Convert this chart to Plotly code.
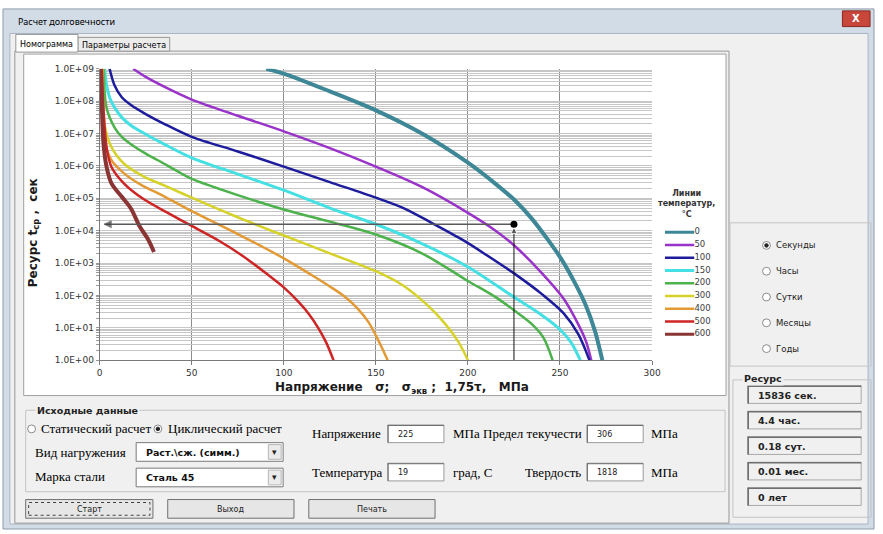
import math
import plotly.graph_objects as go

W, H = 883, 534


def px(x):
    return x / W


def py(y):
    return 1 - y / H


# ---------------- data ----------------
temperatures = ["0", "50", "100", "150", "200", "300", "400", "500", "600"]
line_colors = ["#3d8796", "#9a33c9", "#1c1c9c", "#45e0e3", "#4cb24c",
               "#d6d22a", "#e39a35", "#cf2424", "#8a3434"]
line_widths = [4, 2.5, 2.5, 3, 2.5, 2.5, 2.5, 2.5, 4]

stress_t0 = [90.5, 100, 125, 150, 175, 200, 215, 226, 235, 243.7, 251, 258, 264, 269, 273]
resource_t0 = [1.0e9, 7.1e8, 2.0e8, 5.2e7, 1.0e7, 1.26e6, 2.8e5, 8.1e4, 2.24e4, 5.0e3, 1.26e3, 2.5e2, 50, 7.9, 1.0]

stress_t50 = [18.2, 25, 35, 50, 75, 100, 125, 150, 175, 200, 215, 225, 240, 252, 260, 264, 267]
resource_t50 = [1.0e9, 5.6e8, 2.8e8, 1.12e8, 3.55e7, 1.17e7, 3.55e6, 9.5e5, 2.24e5, 3.55e4, 1.0e4, 3.55e3, 5.0e2, 79, 12.6, 4.0, 1.0]

stress_t100 = [5.4, 8, 12, 17, 25, 35, 50, 75, 100, 125, 150, 165, 180, 197.6, 210, 226, 240, 252, 260, 266]
resource_t100 = [1.0e9, 3.16e8, 1.32e8, 7.6e7, 4.0e7, 2.0e7, 7.9e6, 2.8e6, 9.5e5, 3.16e5, 1.05e5, 5.0e4, 1.78e4, 5.0e3, 1.78e3, 4.4e2, 1.12e2, 28, 6.3, 1.0]

stress_t150 = [2.7, 3.75, 5.5, 8.2, 12, 17, 25, 35, 50, 75, 100, 125, 150, 175, 200, 225, 240, 250, 256, 261]
resource_t150 = [1.0e9, 3.1e8, 1.26e8, 6.2e7, 3.16e7, 1.78e7, 9.5e6, 4.7e6, 1.78e6, 5.6e5, 1.78e5, 5.0e4, 1.58e4, 4.0e3, 7.6e2, 89, 25, 8.9, 3.55, 1.0]

stress_t200 = [2.2, 3.75, 8.2, 12, 17, 25, 31.6, 44, 50, 75, 100, 125, 150, 175, 200, 215, 225, 235, 241, 246]
resource_t200 = [1.0e9, 6.2e7, 1.5e7, 7.9e6, 4.7e6, 2.4e6, 1.5e6, 6.0e5, 4.0e5, 1.26e5, 4.5e4, 1.9e4, 7.6e3, 2.0e3, 2.8e2, 89, 35, 12.6, 5.0, 1.0]

stress_t300 = [1.8, 2.7, 6.4, 13.4, 24, 35, 50, 75, 100, 125, 150, 165, 178, 188, 195, 200]
resource_t300 = [1.0e9, 1.86e7, 3.8e6, 1.15e6, 4.7e5, 2.5e5, 1.05e5, 2.6e4, 7.1e3, 2.0e3, 5.6e2, 2.0e2, 50, 12.6, 3.55, 1.0]

stress_t400 = [1.4, 2.7, 6.4, 13.4, 22.5, 35, 50, 75, 100, 115, 125, 133, 140, 146, 151, 154, 156.4]
resource_t400 = [1.0e9, 6.2e6, 1.5e6, 5.8e5, 2.6e5, 1.15e5, 4.0e4, 7.9e3, 1.4e3, 4.3e2, 1.9e2, 93, 40, 15, 4.5, 2.0, 1.0]

stress_t500 = [1.1, 3.75, 6.4, 13.4, 24, 37, 50, 65, 77.7, 90, 100, 108, 114, 119, 123, 127]
resource_t500 = [1.0e9, 3.8e6, 9.3e5, 2.8e5, 9.3e4, 3.55e4, 1.4e4, 4.8e3, 1.66e3, 5.0e2, 1.78e2, 63, 25, 9.3, 3.55, 1.0]

stress_t600 = [0.8, 1.97, 3.75, 6.4, 11.8, 17.1, 21.6, 26.1, 29.5]
resource_t600 = [1.0e9, 6.0e6, 9.3e5, 2.9e5, 1.15e5, 4.7e4, 1.4e4, 5.6e3, 2.2e3]

x_tick_values = [0, 50, 100, 150, 200, 250, 300]
y_decades = [1e0, 1e1, 1e2, 1e3, 1e4, 1e5, 1e6, 1e7, 1e8, 1e9]
y_tick_labels = ["1.0E+00", "1.0E+01", "1.0E+02", "1.0E+03", "1.0E+04",
                 "1.0E+05", "1.0E+06", "1.0E+07", "1.0E+08", "1.0E+09"]

point_stress = 225
point_resource = 15836
arrow_tip_stress = 2.5
axis_min_resource = 1.0

time_units = ["Секунды", "Часы", "Сутки", "Месяцы", "Годы"]
resource_results = ["15836 сек.", "4.4 час.", "0.18 сут.", "0.01 мес.", "0 лет"]

curves = [
    (stress_t0, resource_t0), (stress_t50, resource_t50), (stress_t100, resource_t100),
    (stress_t150, resource_t150), (stress_t200, resource_t200), (stress_t300, resource_t300),
    (stress_t400, resource_t400), (stress_t500, resource_t500), (stress_t600, resource_t600),
]

# ---------------- figure ----------------
fig = go.Figure()

for (xs, ys), col, lw in zip(curves, line_colors, line_widths):
    fig.add_trace(go.Scatter(
        x=xs, y=ys, mode="lines", xaxis="x", yaxis="y",
        line=dict(color=col, width=lw, shape="spline", smoothing=0.9),
        showlegend=False, hoverinfo="skip"))

# guide lines from the operating point
fig.add_trace(go.Scatter(
    x=[point_stress, arrow_tip_stress], y=[point_resource, point_resource],
    mode="lines+markers", xaxis="x", yaxis="y",
    line=dict(color="#5a5a5a", width=1.5),
    marker=dict(symbol=["circle", "arrow-left"], size=[0, 7], color="#3a3a3a"),
    showlegend=False, hoverinfo="skip"))
fig.add_trace(go.Scatter(
    x=[point_stress, point_stress], y=[axis_min_resource, point_resource * 0.8],
    mode="lines+markers", xaxis="x", yaxis="y",
    line=dict(color="#111111", width=1),
    marker=dict(symbol=["circle", "arrow-up"], size=[0, 6], color="#111111"),
    showlegend=False, hoverinfo="skip", cliponaxis=False))
fig.add_trace(go.Scatter(
    x=[point_stress], y=[point_resource], mode="markers", xaxis="x", yaxis="y",
    marker=dict(color="black", size=7, symbol="circle"),
    showlegend=False, hoverinfo="skip"))

# hand-made legend (mini axes)
for i, (t, col, lw) in enumerate(zip(temperatures, line_colors, line_widths)):
    fig.add_trace(go.Scatter(
        x=[0, 1], y=[i, i], mode="lines", xaxis="x2", yaxis="y2",
        line=dict(color=col, width=min(lw, 3)), showlegend=False, hoverinfo="skip"))
fig.add_trace(go.Scatter(
    x=[1] * len(temperatures), y=list(range(len(temperatures))), mode="text",
    text=temperatures, textposition="middle right", xaxis="x2", yaxis="y2",
    textfont=dict(family="DejaVu Sans", size=8.5, color="#404040"),
    cliponaxis=False, showlegend=False, hoverinfo="skip"))

# minor gridline positions for the log axis
y_grid_vals = []
y_grid_text = []
for k, dec in enumerate(y_decades[:-1]):
    for m in range(1, 10):
        y_grid_vals.append(m * dec)
        y_grid_text.append(y_tick_labels[k] if m == 1 else "")
y_grid_vals.append(y_decades[-1])
y_grid_text.append(y_tick_labels[-1])

tickfont = dict(family="DejaVu Sans", size=9, color="#333333")

fig.update_layout(
    width=W, height=H, autosize=False,
    margin=dict(l=0, r=0, t=0, b=0),
    paper_bgcolor="white", plot_bgcolor="white",
    xaxis=dict(domain=[px(98), px(658)], range=[0, 300], tickvals=x_tick_values,
               showgrid=True, gridcolor="#8c8c8c", gridwidth=1, zeroline=False,
               showline=True, linecolor="#7a7a7a", ticks="outside", ticklen=4,
               tickcolor="#7a7a7a", tickfont=tickfont, anchor="y", fixedrange=True),
    yaxis=dict(domain=[py(362), py(65)], type="log", range=[0, 9],
               tickvals=y_grid_vals, ticktext=y_grid_text,
               showgrid=True, gridcolor="#c6c6c6", gridwidth=1, zeroline=False,
               showline=True, linecolor="#7a7a7a", ticks="outside", ticklen=3,
               tickcolor="#9a9a9a", tickfont=tickfont, anchor="x", fixedrange=True),
    xaxis2=dict(domain=[px(671), px(701)], range=[0, 1], visible=False,
                anchor="y2", fixedrange=True),
    yaxis2=dict(domain=[py(342), py(225)], range=[8.5, -0.5], visible=False,
                anchor="x2", fixedrange=True),
)

# ---------------- window chrome ----------------
shapes = []


def rect(x0, y0, x1, y1, fill=None, line="#a0a0a0", lw=1, dash=None, layer="below"):
    d = dict(type="rect", xref="paper", yref="paper",
             x0=px(x0), x1=px(x1), y0=py(y1), y1=py(y0), layer=layer,
             line=dict(color=line, width=lw))
    if dash:
        d["line"]["dash"] = dash
    if fill:
        d["fillcolor"] = fill
    shapes.append(d)


def circle(cx, cy, r, fill="white", line="#8a8a8a", layer="above"):
    shapes.append(dict(type="circle", xref="paper", yref="paper",
                       x0=px(cx - r), x1=px(cx + r), y0=py(cy + r), y1=py(cy - r),
                       fillcolor=fill, line=dict(color=line, width=1), layer=layer))


def hline(x0, x1, y, color, w=1):
    shapes.append(dict(type="line", xref="paper", yref="paper", x0=px(x0), x1=px(x1),
                       y0=py(y), y1=py(y), line=dict(color=color, width=w)))


def vline(x, y0, y1, color, w=1):
    shapes.append(dict(type="line", xref="paper", yref="paper", x0=px(x), x1=px(x),
                       y0=py(y0), y1=py(y1), line=dict(color=color, width=w)))


annotations = []


def label(x, y, text, size=9, family="DejaVu Sans", color="#000000", bold=False,
          xanchor="left", bg=None, angle=0):
    if bold:
        text = "<b>" + text + "</b>"
    a = dict(xref="paper", yref="paper", x=px(x), y=py(y), text=text, showarrow=False,
             xanchor=xanchor, yanchor="middle", textangle=angle,
             font=dict(family=family, size=size, color=color))
    if bg:
        a["bgcolor"] = bg
    annotations.append(a)


SERIF = "Liberation Serif"

# window frame & client area
rect(0, 4, 883, 534, fill="#d2dce7", line="#8e9bab")
rect(7, 29, 877, 529, fill="#f0f0f0", line="#a9b5c3")
label(13, 17, "Расчет долговечности", size=9, family="Noto Sans")
rect(851, 6, 879, 22, fill="#c9473a", line="#87291f", layer="above")
label(865, 14, "X", size=10, family="DejaVu Sans", color="white", bold=True, xanchor="center")

# tab control
rect(12, 47, 736, 528, fill="#f0f0f0", line="#979797")
rect(76, 33, 169, 47, fill="#ececec", line="#979797")
rect(13, 30, 76, 48, fill="white", line="#979797")
label(44.5, 40, "Номограмма", size=8, xanchor="center")
label(122.5, 41, "Параметры расчета", size=8, xanchor="center")

# chart area
rect(21, 50, 733, 398, fill="white", line="#a0a0a0")

# right radio group
rect(737, 222, 880, 368, line="#c4c4c4")
for i, u in enumerate(time_units):
    yy = 245 + i * 26.3
    circle(774, yy, 4)
    if i == 0:
        circle(774, yy, 1.8, fill="#222222", line="#222222")
    label(782, yy, u, size=8.5, color="#222222")

# result group
rect(740, 382, 880, 522, line="#c4c4c4")
label(749, 381, "Ресурс", size=9.5, bold=True, bg="#f0f0f0", color="#222222")
for i, t in enumerate(resource_results):
    y0 = 388 + i * 26
    rect(755, y0, 870, y0 + 18, fill="#f0f0f0", line="#a8a8a8", layer="above")
    hline(755, 870, y0 + 0.5, "#6e6e6e", 1.5)
    vline(755.5, y0, y0 + 18, "#6e6e6e", 1.5)
    label(763, y0 + 9.5, t, size=9.5, bold=True, color="#222222")

# input group
rect(23, 413, 732, 496, line="#c4c4c4")
label(32, 413, "Исходные данные", size=9.5, bold=True, bg="#f0f0f0", color="#222222")
circle(29, 432, 4)
label(36, 432, "Статический расчет", size=13, family=SERIF)
circle(157, 432, 4)
circle(157, 432, 1.8, fill="#222222", line="#222222")
label(165, 432, "Циклический расчет", size=13, family=SERIF)

label(30, 456, "Вид нагружения", size=13, family=SERIF)
label(30, 481, "Марка стали", size=13, family=SERIF)
for (y0, txt) in [(446, "Раст.\\сж. (симм.)"), (472, "Сталь 45")]:
    rect(135, y0, 284, y0 + 19, fill="white", line="#7a7a7a", layer="above")
    rect(269, y0 + 2, 282, y0 + 17, fill="#ebebeb", line="#b5b5b5", layer="above")
    label(275.5, y0 + 9.5, "▾", size=9, xanchor="center", color="#222222")
    label(143, y0 + 10, txt, size=9.5, bold=True, color="#111111")

row1, row2 = 437, 476
label(311, row1, "Напряжение", size=13, family=SERIF)
label(311, row2, "Температура", size=13, family=SERIF)
label(454, row1, "МПа", size=13, family=SERIF)
label(454, row2, "град, С", size=13, family=SERIF)
label(485, row1, "Предел текучести", size=13, family=SERIF)
label(527, row2, "Твердость", size=13, family=SERIF)
label(655, row1, "МПа", size=13, family=SERIF)
label(655, row2, "МПа", size=13, family=SERIF)
for (x0, yc, val) in [(390, row1, "225"), (390, row2, "19"), (592, row1, "306"), (592, row2, "1818")]:
    rect(x0, yc - 9, x0 + 57, yc + 9, fill="white", line="#9a9a9a", layer="above")
    hline(x0, x0 + 57, yc - 8.5, "#6e6e6e")
    vline(x0 + 0.5, yc - 9, yc + 9, "#6e6e6e")
    label(x0 + 8, yc + 0.5, val, size=8, color="#222222")

# buttons
for (x0, x1, txt) in [(23, 152, "Старт"), (167, 295, "Выход"), (310, 438, "Печать")]:
    rect(x0, 504, x1, 523, fill="#e6e6e6", line="#707070", layer="above")
    label((x0 + x1) / 2, 514, txt, size=8, xanchor="center", color="#222222")
rect(26, 507, 149, 520, line="#404040", dash="dot", layer="above")

# ---------------- chart texts ----------------
NB = "\u00a0"
label(405, 390, "Напряжение" + NB * 3 + "σ;" + NB * 3 + "σ<sub>экв</sub>" + NB + ";" + NB * 2 +
      "1,75τ," + NB * 3 + "МПа", size=12, bold=True, xanchor="center", color="#1a1a1a")
annotations.append(dict(xref="paper", yref="paper", x=px(31), y=py(232),
                        text="<b>Ресурс" + NB + "t<sub>ср</sub>" + NB + "," + NB * 2 + "сек</b>",
                        showarrow=False, textangle=-90, xanchor="center", yanchor="middle",
                        font=dict(family="DejaVu Sans", size=12, color="#1a1a1a")))
annotations.append(dict(xref="paper", yref="paper", x=px(693), y=py(203),
                        text="<b>Линии<br>температур,<br>°С</b>", showarrow=False,
                        xanchor="center", yanchor="middle", align="center",
                        font=dict(family="DejaVu Sans", size=8, color="#333333")))

fig.update_layout(shapes=shapes, annotations=annotations)

page_css = ("html,body{margin:0 !important;padding:0 !important;overflow:hidden !important;}"
            ".plotly-graph-div{position:fixed !important;left:0 !important;top:0 !important;}"
            ".svg-container{display:block !important;}")
post = ("var s=document.createElement('style');s.innerHTML='" + page_css + "';"
        "document.head.appendChild(s);"
        "var gd=document.getElementById('{plot_id}');"
        "var vw=document.documentElement.clientWidth||window.innerWidth;"
        "var vh=document.documentElement.clientHeight||window.innerHeight;"
        "var sx=vw/" + str(W) + ", sy=vh/" + str(H) + ";"
        "if(sx>1.0005||sy>1.0005){gd.style.transformOrigin='0 0';"
        "gd.style.transform='scale('+Math.max(sx,1)+','+Math.max(sy,1)+')';}"
        "window.scrollTo(0,0);")
fig.write_html("out.html",
               config={"displayModeBar": False, "responsive": False},
               post_script=post)
